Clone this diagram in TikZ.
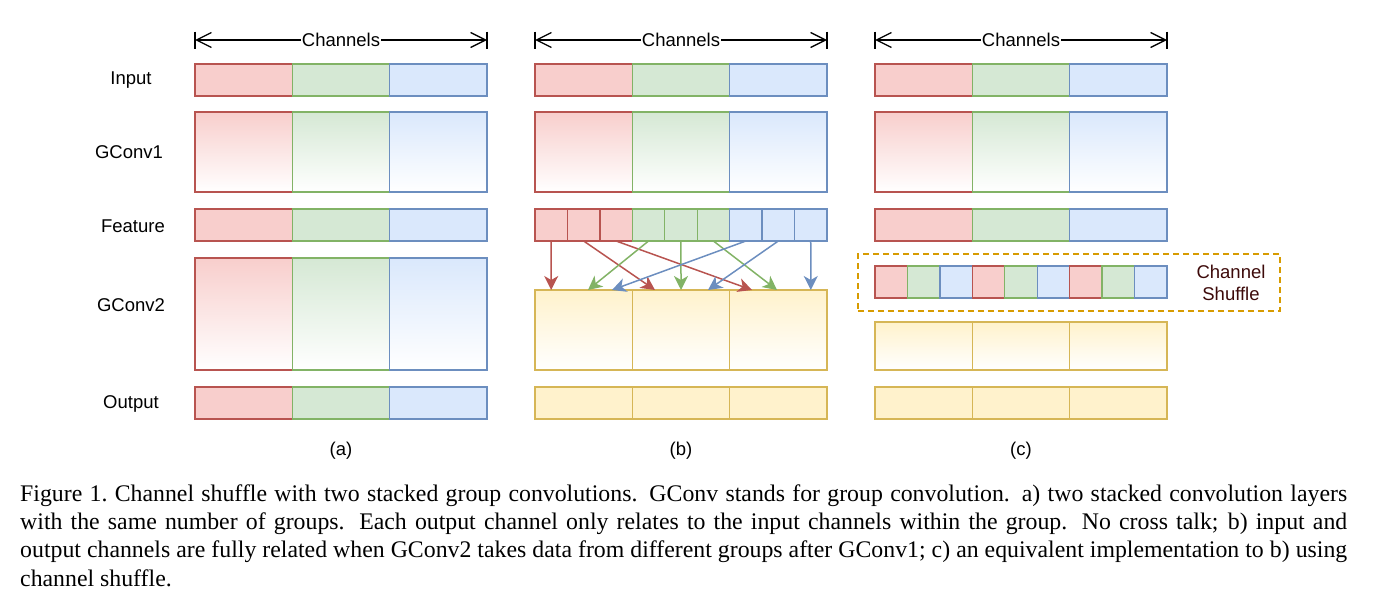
\documentclass[tikz,border=0pt]{standalone}
\usepackage{fontspec}
\setmainfont{Liberation Serif}
\setsansfont{Liberation Sans}
\usetikzlibrary{arrows.meta}
\definecolor{rfill}{HTML}{F8CECC}\definecolor{rline}{HTML}{B85450}
\definecolor{gfill}{HTML}{D5E8D4}\definecolor{gline}{HTML}{82B366}
\definecolor{bfill}{HTML}{DAE8FC}\definecolor{bline}{HTML}{6C8EBF}
\definecolor{yfill}{HTML}{FFF2CC}\definecolor{yline}{HTML}{D6B656}
\definecolor{oline}{HTML}{D79B00}
\definecolor{shuf}{HTML}{3D0A0A}
\tikzset{
  cell/.style={draw, line width=1.3pt, inner sep=0pt, outer sep=0pt, minimum width=97.33pt},
  scell/.style={draw, line width=1.3pt, inner sep=0pt, outer sep=0pt, minimum width=32.44pt, minimum height=32pt},
  rcell/.style={draw=rline, fill=rfill},
  gcell/.style={draw=gline, fill=gfill},
  bcell/.style={draw=bline, fill=bfill},
  ycell/.style={draw=yline, fill=yfill},
  rgrad/.style={draw=rline, top color=rfill, bottom color=white},
  ggrad/.style={draw=gline, top color=gfill, bottom color=white},
  bgrad/.style={draw=bline, top color=bfill, bottom color=white},
  ygrad/.style={draw=yline, top color=yfill, bottom color=white},
  lab/.style={font=\sffamily\fontsize{18.5}{22}\selectfont, inner sep=0pt},
  conn/.style={line width=1.5pt, -{Stealth[length=14pt,width=14pt,inset=4pt]}},
  chan/.style={line width=1.3pt, {Straight Barb[length=15pt,width=15pt]}-{Straight Barb[length=15pt,width=15pt]}},
}
\begin{document}
\begin{tikzpicture}[x=1pt,y=-1pt]
\useasboundingbox (0,0) rectangle (1377,613);
% row labels
\node[lab] (l-in) at (131,80) {Input};
\node[lab] (l-g1) at (129,152) {GConv1};
\node[lab] (l-fe) at (133,226) {Feature};
\node[lab] (l-g2) at (131,305) {GConv2};
\node[lab] (l-out) at (131,404) {Output};
% common rows
\foreach \p/\x in {a/195,b/535,c/875} {
  \coordinate (\p-chl) at (\x,40);
  \coordinate (\p-chr) at (\x+292,40);
  \draw[chan] (\p-chl) -- node[lab, fill=white, inner sep=0.6pt] (\p-chtxt) {Channels} (\p-chr);
  \draw[line width=1.3pt] ([yshift=8.5pt]\p-chl) -- ([yshift=-8.5pt]\p-chl);
  \draw[line width=1.3pt] ([yshift=8.5pt]\p-chr) -- ([yshift=-8.5pt]\p-chr);
  \node[cell, rcell, minimum height=32pt] (\p-in1) at (\x+48.67,80) {};
  \node[cell, gcell, minimum height=32pt] (\p-in2) at (\x+146,80) {};
  \node[cell, bcell, minimum height=32pt] (\p-in3) at (\x+243.33,80) {};
  \node[cell, rgrad, minimum height=80pt] (\p-g11) at (\x+48.67,152) {};
  \node[cell, ggrad, minimum height=80pt] (\p-g12) at (\x+146,152) {};
  \node[cell, bgrad, minimum height=80pt] (\p-g13) at (\x+243.33,152) {};
}
% (a)
\node[cell, rcell, minimum height=32pt] (a-f1) at (243.67,225) {};
\node[cell, gcell, minimum height=32pt] (a-f2) at (341,225) {};
\node[cell, bcell, minimum height=32pt] (a-f3) at (438.33,225) {};
\node[cell, rgrad, minimum height=112pt] (a-g21) at (243.67,314) {};
\node[cell, ggrad, minimum height=112pt] (a-g22) at (341,314) {};
\node[cell, bgrad, minimum height=112pt] (a-g23) at (438.33,314) {};
\node[cell, rcell, minimum height=32pt] (a-o1) at (243.67,403) {};
\node[cell, gcell, minimum height=32pt] (a-o2) at (341,403) {};
\node[cell, bcell, minimum height=32pt] (a-o3) at (438.33,403) {};
% (b)
\foreach \i/\s in {1/rcell,2/rcell,3/rcell,4/gcell,5/gcell,6/gcell,7/bcell,8/bcell,9/bcell} {
  \node[scell, \s] (b-f\i) at (535+32.44*\i-16.22,225) {};
}
\node[cell, ygrad, minimum height=80pt] (b-g21) at (583.67,330) {};
\node[cell, ygrad, minimum height=80pt] (b-g22) at (681,330) {};
\node[cell, ygrad, minimum height=80pt] (b-g23) at (778.33,330) {};
\node[cell, ycell, minimum height=32pt] (b-o1) at (583.67,403) {};
\node[cell, ycell, minimum height=32pt] (b-o2) at (681,403) {};
\node[cell, ycell, minimum height=32pt] (b-o3) at (778.33,403) {};
\coordinate (t-r1) at (551.2,290);
\coordinate (t-r2) at (655,290);
\coordinate (t-r3) at (752,290);
\coordinate (t-g1) at (588,290);
\coordinate (t-g2) at (681,290);
\coordinate (t-g3) at (777,290);
\coordinate (t-b1) at (612,290);
\coordinate (t-b2) at (708,290);
\coordinate (t-b3) at (810.8,290);
\draw[conn, rline] (b-f1.south) -- (t-r1);
\draw[conn, rline] (b-f2.south) -- (t-r2);
\draw[conn, rline] (b-f3.south) -- (t-r3);
\draw[conn, gline] (b-f4.south) -- (t-g1);
\draw[conn, gline] (b-f5.south) -- (t-g2);
\draw[conn, gline] (b-f6.south) -- (t-g3);
\draw[conn, bline] (b-f7.south) -- (t-b1);
\draw[conn, bline] (b-f8.south) -- (t-b2);
\draw[conn, bline] (b-f9.south) -- (t-b3);
% (c)
\node[cell, rcell, minimum height=32pt] (c-f1) at (923.67,225) {};
\node[cell, gcell, minimum height=32pt] (c-f2) at (1021,225) {};
\node[cell, bcell, minimum height=32pt] (c-f3) at (1118.33,225) {};
\node[draw=oline, line width=1.3pt, dash pattern=on 6pt off 4pt, minimum width=422pt, minimum height=57pt, inner sep=0pt] (c-shbox) at (1069,282.5) {};
\foreach \i/\s in {1/rcell,2/gcell,3/bcell,4/rcell,5/gcell,6/bcell,7/rcell,8/gcell,9/bcell} {
  \node[scell, \s] (c-s\i) at (875+32.44*\i-16.22,282) {};
}
\node[lab, text=shuf, align=center, font=\sffamily\fontsize{18.5}{22}\selectfont] (c-shtxt) at (1231,283) {Channel\\Shuffle};
\node[cell, ygrad, minimum height=48pt] (c-g21) at (923.67,346) {};
\node[cell, ygrad, minimum height=48pt] (c-g22) at (1021,346) {};
\node[cell, ygrad, minimum height=48pt] (c-g23) at (1118.33,346) {};
\node[cell, ycell, minimum height=32pt] (c-o1) at (923.67,403) {};
\node[cell, ycell, minimum height=32pt] (c-o2) at (1021,403) {};
\node[cell, ycell, minimum height=32pt] (c-o3) at (1118.33,403) {};
% sub-labels
\node[lab] (cap-a) at (341,451) {(a)};
\node[lab] (cap-b) at (681,451) {(b)};
\node[lab] (cap-c) at (1021,451) {(c)};
% caption
\node[anchor=base west, inner sep=0pt, font=\fontsize{23.8}{28.4}\selectfont] (caption) at (20,501) {\parbox[t]{1327pt}{Figure 1.\ Channel shuffle with two stacked group convolutions. GConv stands for group convolution. a) two stacked convolution layers\linebreak with the same number of groups. Each output channel only relates to the input channels within the group. No cross talk; b) input and\linebreak output channels are fully related when GConv2 takes data from different groups after GConv1; c) an equivalent implementation to b) using\linebreak channel shuffle.}};
\end{tikzpicture}
\end{document}
